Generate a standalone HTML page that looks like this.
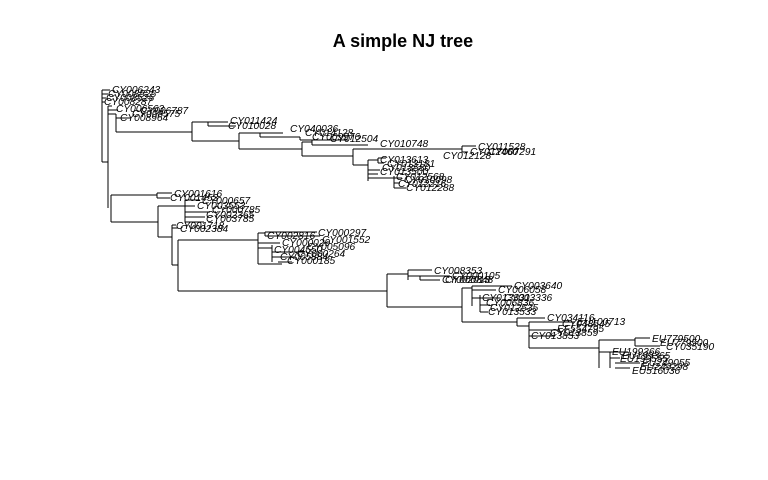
<!DOCTYPE html>
<html><head><meta charset="utf-8"><style>
html,body{margin:0;padding:0;background:#fff;width:768px;height:480px;overflow:hidden}
svg text{font-family:"Liberation Sans",sans-serif;font-size:10.2px;font-style:italic;fill:#000}
</style></head><body>
<svg width="768" height="480" viewBox="0 0 768 480" xmlns="http://www.w3.org/2000/svg">
<text x="403" y="47" text-anchor="middle" style="font-size:18px;font-weight:bold;font-style:normal">A simple NJ tree</text>
<g stroke="#000" stroke-width="1" fill="none">
<path d="M102,90V162 M102,90H110 M102,94H108 M102,98H106 M102,102H105 M102,162H108"/>
<path d="M108,106V208 M108,106H112 M108,110H118 M108,114H116 M116,114V132 M116,118H131 M116,132H192"/>
<path d="M192,122V141 M192,122H208 M208,122V126 M208,122H228 M208,126H236 M192,141H239"/>
<path d="M239,133V149 M239,133H260 M260,133V137 M260,133H283 M260,137H300 M300,137V140 M300,140H318 M239,149H302"/>
<path d="M302,142V156 M302,142H312 M312,140V145 M312,140H348 M312,145H368 M302,156H353"/>
<path d="M353,149V165 M353,149H462 M462,146V152 M462,146H476 M462,152H468 M353,165H368"/>
<path d="M368,160V181 M368,160H378 M378,158V163 M378,158H386 M378,163H384 M368,170H380 M368,174H378 M368,178H394 M394,176V188 M394,178H402 M394,183H400 M394,188H406"/>
<path d="M111,195V222 M111,195H157 M157,193V198 M157,193H172 M157,198H170 M111,222H158"/>
<path d="M158,206V237 M158,206H185 M185,200V222 M185,200H200 M185,206H195 M185,212H210 M185,217H205 M185,222H204"/>
<path d="M172,225V265 M172,225H176 M172,228H178 M172,237H158 M172,265H178"/>
<path d="M178,240V291 M178,240H258 M258,233V264 M258,233H265 M265,232V236 M265,232H317 M265,236H320 M258,243H280 M258,248H272 M272,245V262 M272,252H305 M272,257H295 M278,262H292 M258,264H282"/>
<path d="M178,291H387 M387,274V307 M387,274H408 M408,270V280 M408,270H432 M408,276H420 M420,276V280 M420,276H450 M420,280H440 M387,307H462"/>
<path d="M462,288V322 M462,288H472 M472,286V306 M472,286H512 M472,290H496 M472,298H480 M480,295V312 M480,298H500 M480,305H490 M480,312H488 M462,322H517"/>
<path d="M517,318V326 M517,318H545 M517,326H529 M529,322V348 M529,322H575 M529,330H560 M529,336H555 M529,348H599"/>
<path d="M599,340V368 M599,340H635 M635,338V346 M635,338H650 M635,346H660 M599,352H610 M610,352V368 M610,352H628 M610,358H620 M615,363H640 M615,368H630"/>
</g>
<g>
<text x="112" y="93">CY006243</text><text x="108" y="97">CY008525</text><text x="106" y="101">CY008525</text><text x="104" y="105">CY008287</text>
<text x="116" y="112">CY006563</text><text x="140" y="114">CY006787</text><text x="132" y="117">CY008575</text><text x="120" y="121">CY008964</text>
<text x="230" y="124">CY011424</text><text x="228" y="129">CY010028</text>
<text x="290" y="132">CY040036</text><text x="305" y="136">CY014128</text><text x="312" y="140">CY009976</text><text x="330" y="142">CY012504</text><text x="380" y="147">CY010748</text>
<text x="478" y="150">CY011528</text><text x="470" y="155">CY012460</text><text x="488" y="155">CY007291</text><text x="443" y="159">CY012128</text>
<text x="380" y="163">CY013613</text><text x="387" y="167">CY013181</text><text x="382" y="171">CY013580</text><text x="380" y="175">CY013500</text><text x="396" y="180">CY012568</text><text x="404" y="183">CY010098</text><text x="398" y="187">CY012216</text><text x="406" y="191">CY012288</text>
<text x="174" y="197">CY001616</text><text x="170" y="201">CY001453</text><text x="202" y="204">CY000657</text><text x="197" y="209">CY003553</text><text x="212" y="213">CY000785</text><text x="206" y="218">CY002365</text><text x="206" y="222">CY003785</text>
<text x="176" y="229">CY001718</text><text x="180" y="232">CY002384</text>
<text x="318" y="236">CY000297</text><text x="267" y="239">CY002816</text><text x="322" y="243">CY001552</text><text x="282" y="246">CY000029</text><text x="307" y="250">CY005096</text><text x="274" y="253">CY004550</text><text x="297" y="257">CY000264</text><text x="280" y="260">CY005884</text><text x="287" y="264">CY000185</text>
<text x="434" y="274">CY008353</text><text x="452" y="279">CY000105</text><text x="442" y="283">CY002013</text><text x="445" y="283">CY000848</text>
<text x="514" y="289">CY003640</text><text x="498" y="293">CY006058</text><text x="504" y="301">CY003336</text><text x="482" y="301">CY013331</text><text x="486" y="306">CY006836</text><text x="490" y="311">CY012535</text><text x="488" y="315">CY013533</text>
<text x="547" y="321">CY034116</text><text x="577" y="325">EU100713</text><text x="562" y="327">CY048545</text><text x="557" y="332">EF554795</text><text x="550" y="336">CY013859</text><text x="531" y="339">CY013853</text>
<text x="652" y="342">EU779500</text><text x="660" y="346">EU779500</text><text x="666" y="350">CY035190</text><text x="612" y="355">EU199366</text><text x="622" y="359">EU199365</text><text x="620" y="362">EU199555</text><text x="642" y="366">EU249055</text><text x="640" y="370">EU249298</text><text x="632" y="374">EU516036</text>
</g>
</svg>
</body></html>
